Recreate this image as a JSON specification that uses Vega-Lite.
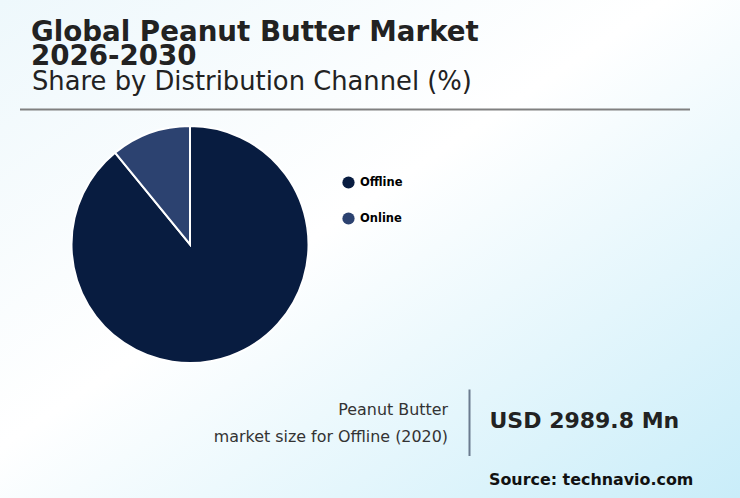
{
  "$schema": "https://vega.github.io/schema/vega-lite/v6.json",
  "width": 740,
  "height": 498,
  "autosize": {"type": "fit", "contains": "padding"},
  "padding": 0,
  "background": "#ffffff",
  "config": {"view": {"stroke": null}, "font": "DejaVu Sans"},
  "datasets": {
    "share": [
      {"channel": "Offline", "share": 89.1},
      {"channel": "Online", "share": 10.9}
    ],
    "one": [{}]
  },
  "layer": [
    {
      "data": {"name": "one"},
      "mark": {
        "type": "rect",
        "color": {
          "gradient": "linear",
          "x1": 0, "y1": 0, "x2": 1, "y2": 1,
          "stops": [
            {"offset": 0, "color": "#eef8fc"},
            {"offset": 0.45, "color": "#ffffff"},
            {"offset": 1, "color": "#c9edf9"}
          ]
        }
      },
      "encoding": {}
    },
    {
      "data": {"name": "share"},
      "mark": {"type": "arc", "x": 190, "y": 244.5, "outerRadius": 118.5, "stroke": "#ffffff", "strokeWidth": 2},
      "encoding": {
        "theta": {"field": "share", "type": "quantitative", "stack": true},
        "color": {
          "field": "channel",
          "type": "nominal",
          "scale": {"domain": ["Offline", "Online"], "range": ["#081c40", "#2c4270"]},
          "legend": {
            "title": null,
            "orient": "none",
            "legendX": 342,
            "legendY": 176,
            "symbolType": "circle",
            "symbolSize": 150,
            "symbolStrokeWidth": 0,
            "labelFont": "DejaVu Sans",
            "labelFontSize": 11.5,
            "labelFontWeight": "bold",
            "labelColor": "#000000",
            "labelOffset": 5,
            "rowPadding": 23
          }
        }
      }
    },
    {
      "data": {"name": "one"},
      "mark": {"type": "text", "x": 31, "y": 40.5, "text": ["Global Peanut Butter Market", "2026-2030"], "lineHeight": 24.5, "fontSize": 27.7, "fontWeight": "bold", "color": "#222222", "align": "left", "baseline": "alphabetic"},
      "encoding": {}
    },
    {
      "data": {"name": "one"},
      "mark": {"type": "text", "x": 32, "y": 90, "text": "Share by Distribution Channel (%)", "fontSize": 25.8, "color": "#222222", "align": "left", "baseline": "alphabetic"},
      "encoding": {}
    },
    {
      "data": {"name": "one"},
      "mark": {"type": "rule", "color": "#808080", "strokeWidth": 2},
      "encoding": {
        "x": {"value": 20},
        "x2": {"value": 690},
        "y": {"value": 109.5}
      }
    },
    {
      "data": {"name": "one"},
      "mark": {"type": "text", "x": 448, "y": 415, "text": "Peanut Butter", "fontSize": 15.9, "color": "#333333", "align": "right", "baseline": "alphabetic"},
      "encoding": {}
    },
    {
      "data": {"name": "one"},
      "mark": {"type": "text", "x": 448, "y": 442, "text": "market size for Offline (2020)", "fontSize": 15.9, "color": "#333333", "align": "right", "baseline": "alphabetic"},
      "encoding": {}
    },
    {
      "data": {"name": "one"},
      "mark": {"type": "rule", "color": "#6b7b8f", "strokeWidth": 2},
      "encoding": {
        "x": {"value": 469.5},
        "y": {"value": 389.5},
        "y2": {"value": 456}
      }
    },
    {
      "data": {"name": "one"},
      "mark": {"type": "text", "x": 489.5, "y": 427.5, "text": "USD 2989.8 Mn", "fontSize": 22, "fontWeight": "bold", "color": "#222222", "align": "left", "baseline": "alphabetic"},
      "encoding": {}
    },
    {
      "data": {"name": "one"},
      "mark": {"type": "text", "x": 489, "y": 485, "text": "Source: technavio.com", "fontSize": 15.9, "fontWeight": "bold", "color": "#111111", "align": "left", "baseline": "alphabetic"},
      "encoding": {}
    }
  ]
}
